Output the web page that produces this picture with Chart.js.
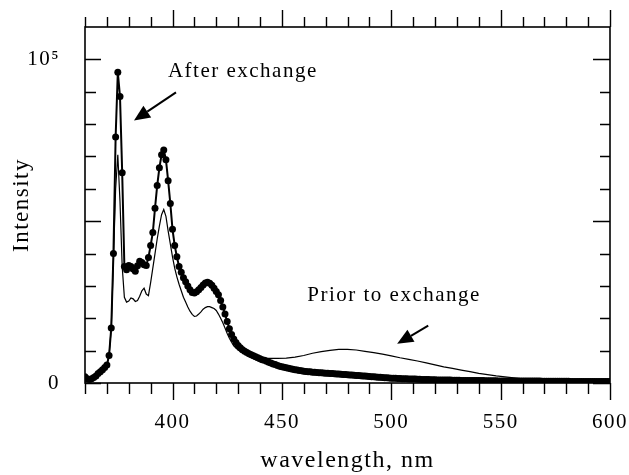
<!DOCTYPE html>
<html>
<head>
<meta charset="utf-8">
<script src="https://cdn.jsdelivr.net/npm/chart.js@4.4.1/dist/chart.umd.min.js"></script>
<style>
  html, body { margin: 0; padding: 0; background: #fff; }
  #wrap { width: 629px; height: 475px; }
</style>
</head>
<body>
<div id="wrap"><canvas id="spectrum"></canvas></div>
<script>
// Emission spectrum after exchange, sampled every 1 nm from 360 nm
const afterStart = 360;
const afterIntensity = [
  1900, 1300, 1100, 1300, 1700, 2200, 2900, 3500, 4100, 4800,       // 360-369
  5600, 8500, 17000, 40000, 76000, 96000, 88500, 65000, 36000, 35000, // 370-379
  36300, 36000, 35200, 34500, 36200, 37600, 37200, 36500, 36300, 38800, // 380-389
  42500, 46500, 54000, 61000, 66500, 70500, 72000, 69000, 62500, 55500, // 390-399
  47500, 42500, 39000, 36000, 34200, 32500, 31300, 30000, 28800, 28000, // 400-409
  27800, 28200, 28800, 29500, 30300, 30900, 31100, 30800, 30200, 29300, // 410-419
  28300, 27300, 25500, 23500, 21300, 19000, 16800, 15000, 13600, 12500, // 420-429
  11600, 10900, 10300, 9800, 9400, 9000, 8700, 8400, 8100, 7800,     // 430-439
  7500, 7200, 7000, 6700, 6400, 6200, 5900, 5700, 5400, 5200,        // 440-449
  5000, 4850, 4700, 4550, 4400, 4250, 4100, 4000, 3850, 3750,        // 450-459
  3650, 3550, 3500, 3450, 3350, 3300, 3250, 3200, 3150, 3100,        // 460-469
  3050, 3000, 2950, 2900, 2850, 2800, 2750, 2700, 2650, 2600,        // 470-479
  2550, 2500, 2450, 2400, 2350, 2300, 2250, 2200, 2150, 2100,        // 480-489
  2000, 1950, 1900, 1850, 1800, 1750, 1700, 1650, 1600, 1550,        // 490-499
  1500, 1450, 1450, 1400, 1400, 1350, 1300, 1300, 1250, 1250,        // 500-509
  1200, 1200, 1150, 1150, 1100, 1100, 1050, 1050, 1000, 1000,        // 510-519
  1000, 950, 950, 950, 900, 900, 900, 900, 850, 850,                 // 520-529
  850, 850, 800, 800, 800, 800, 800, 750, 750, 750,                  // 530-539
  750, 750, 750, 700, 700, 700, 700, 700, 700, 650,                  // 540-549
  650, 650, 650, 650, 650, 650, 650, 600, 600, 600,                  // 550-559
  600, 600, 600, 600, 600, 600, 600, 600, 600, 550,                  // 560-569
  550, 550, 550, 550, 550, 550, 550, 550, 550, 550,                  // 570-579
  550, 550, 500, 500, 500, 500, 500, 500, 500, 500,                  // 580-589
  500, 500, 500, 500, 500, 500, 500, 500, 500, 500,                  // 590-599
  500                                                                 // 600
];

// Emission spectrum prior to exchange
const priorWavelength = [
  360, 362, 364, 366, 368, 370, 371, 372, 373, 374, 375, 376, 377, 378, 379,
  380, 381, 382, 383, 384, 385, 386, 387, 388, 389, 390, 391, 392, 393, 394,
  395, 396, 397, 398, 399, 400, 401, 402, 403, 404, 405, 406, 407, 408, 409,
  410, 411, 412, 413, 414, 415, 416, 417, 418, 419, 420, 421, 422, 423, 424,
  425, 426, 427, 428, 429, 430, 432, 434, 436, 438, 440, 444, 448, 452, 456,
  460, 464, 468, 472, 476, 480, 484, 488, 492, 496, 500, 504, 508, 512, 516,
  520, 524, 528, 532, 536, 540, 544, 548, 552, 556, 560, 565, 570, 580, 590, 600
];
const priorIntensity = [
  1900, 1100, 1700, 2900, 4100, 5600, 8500, 17000, 38000, 60000, 70500, 56000, 36000, 26500, 25000,
  25300, 26300, 26000, 25200, 25500, 26800, 28500, 29300, 27500, 27000, 31000, 35500, 40000, 44500, 48500,
  52000, 53600, 51500, 47000, 43000, 39000, 35500, 32800, 30500, 28500, 26500, 25000, 23500, 22200, 21200,
  20600, 20700, 21300, 22000, 22800, 23300, 23600, 23600, 23300, 23000, 22400, 21300, 20000, 18600, 17000,
  15300, 13800, 12600, 11500, 10800, 10200, 9300, 8700, 8300, 8000, 7800, 7600, 7600, 7700, 8000,
  8500, 9200, 9700, 10100, 10400, 10400, 10200, 9800, 9400, 8900, 8400, 7800, 7300, 6800, 6200,
  5600, 5000, 4500, 4000, 3500, 3000, 2600, 2200, 1900, 1600, 1300, 1000, 800, 650, 550, 500
];

// Axis range and labelled ticks
const xMin = 360, xMax = 600;
const yMin = 0, yMax = 110000;
const xLabels = [400, 450, 500, 550, 600];
const yLabels = { 0: '0', 100000: '10\u2075' };

// Notes with arrows, in data units
const notes = [
  { text: 'After exchange', at: [397.9, 94400], from: [401.6, 89800], to: [382.4, 81100] },
  { text: 'Prior to exchange', at: [461.6, 25400], from: [516.9, 17700], to: [502.7, 12100] }
];

const serif = "'Liberation Serif', 'DejaVu Serif', 'Times New Roman', serif";

const afterPoints = afterIntensity.map((v, i) => ({ x: afterStart + i, y: v }));
const priorPoints = priorWavelength.map((w, i) => ({ x: w, y: priorIntensity[i] }));

// keep end labels from shrinking the plot box
function fixBox(size) {
  return s => {
    if (s.isHorizontal()) s.height = size; else s.width = size;
    s.paddingLeft = s.paddingRight = s.paddingTop = s.paddingBottom = 0;
  };
}

// wide letter spacing for every label
const spacing = {
  id: 'spacing',
  beforeDraw(chart) { chart.ctx.letterSpacing = '1.5px'; }
};

// box frame, inner/outer tick marks, notes and arrows
const frame = {
  id: 'frame',
  afterDraw(chart) {
    const { ctx, chartArea: a, scales: { x, y } } = chart;
    ctx.save();
    ctx.strokeStyle = '#000';
    ctx.fillStyle = '#000';
    ctx.lineWidth = 1.6;
    ctx.strokeRect(a.left, a.top, a.right - a.left, a.bottom - a.top);

    ctx.lineWidth = 1.4;
    ctx.beginPath();
    for (let w = xMin; w <= xMax; w += 10) {
      const px = Math.round(x.getPixelForValue(w)) + 0.5;
      const major = w % 50 === 0;
      ctx.moveTo(px, a.bottom);
      ctx.lineTo(px, a.bottom + (major ? 17 : 11));
      ctx.moveTo(px, a.top);
      ctx.lineTo(px, a.top - (major ? 17 : 10));
    }
    for (let v = yMin; v <= 100000; v += 10000) {
      const py = Math.round(y.getPixelForValue(v)) + 0.5;
      const major = v % 50000 === 0;
      ctx.moveTo(a.left, py);
      ctx.lineTo(a.left + (major ? 16 : 11), py);
      ctx.moveTo(a.right, py);
      ctx.lineTo(a.right - (major ? 17 : 10), py);
    }
    ctx.stroke();

    ctx.font = '21px ' + serif;
    ctx.letterSpacing = '1.5px';
    ctx.textAlign = 'left';
    ctx.textBaseline = 'alphabetic';
    notes.forEach(n => {
      ctx.fillText(n.text, x.getPixelForValue(n.at[0]), y.getPixelForValue(n.at[1]));
      const x0 = x.getPixelForValue(n.from[0]), y0 = y.getPixelForValue(n.from[1]);
      const x1 = x.getPixelForValue(n.to[0]), y1 = y.getPixelForValue(n.to[1]);
      const ang = Math.atan2(y1 - y0, x1 - x0);
      const head = 16, half = 7;
      const bx = x1 - head * Math.cos(ang), by = y1 - head * Math.sin(ang);
      ctx.lineWidth = 2;
      ctx.beginPath();
      ctx.moveTo(x0, y0);
      ctx.lineTo(bx, by);
      ctx.stroke();
      ctx.beginPath();
      ctx.moveTo(x1, y1);
      ctx.lineTo(bx + half * Math.sin(ang), by - half * Math.cos(ang));
      ctx.lineTo(bx - half * Math.sin(ang), by + half * Math.cos(ang));
      ctx.closePath();
      ctx.fill();
    });
    ctx.restore();
  }
};

new Chart(document.getElementById('spectrum'), {
  type: 'scatter',
  data: {
    datasets: [
      {
        label: 'Prior to exchange',
        data: priorPoints,
        showLine: true,
        borderColor: '#000',
        borderWidth: 1.2,
        pointRadius: 0,
        tension: 0
      },
      {
        label: 'After exchange',
        data: afterPoints,
        showLine: true,
        borderColor: '#000',
        borderWidth: 2,
        pointRadius: 3.5,
        pointBorderWidth: 0,
        pointBackgroundColor: '#000',
        tension: 0
      }
    ]
  },
  options: {
    responsive: true,
    maintainAspectRatio: false,
    animation: false,
    layout: { padding: { top: 27, right: 19, left: 0, bottom: 0 } },
    plugins: { legend: { display: false }, tooltip: { enabled: false } },
    scales: {
      x: {
        type: 'linear',
        min: xMin,
        max: xMax,
        grid: { display: false, drawTicks: false },
        border: { display: false },
        ticks: {
          stepSize: 10,
          autoSkip: false,
          maxRotation: 0,
          padding: 27,
          color: '#000',
          font: { family: serif, size: 21 },
          callback: v => xLabels.includes(v) ? String(v) : ''
        },
        title: {
          display: true,
          text: 'wavelength, nm',
          color: '#000',
          font: { family: serif, size: 24 },
          padding: { top: 0, bottom: 0 }
        },
        afterFit: fixBox(92)
      },
      y: {
        min: yMin,
        max: yMax,
        grid: { display: false, drawTicks: false },
        border: { display: false },
        ticks: {
          stepSize: 10000,
          autoSkip: false,
          padding: 25,
          color: '#000',
          font: { family: serif, size: 21 },
          callback: v => yLabels[v] || ''
        },
        title: {
          display: true,
          text: 'Intensity',
          color: '#000',
          font: { family: serif, size: 23 },
          padding: { top: 8, bottom: 0 }
        },
        afterFit: fixBox(85)
      }
    }
  },
  plugins: [spacing, frame]
});
</script>
</body>
</html>
